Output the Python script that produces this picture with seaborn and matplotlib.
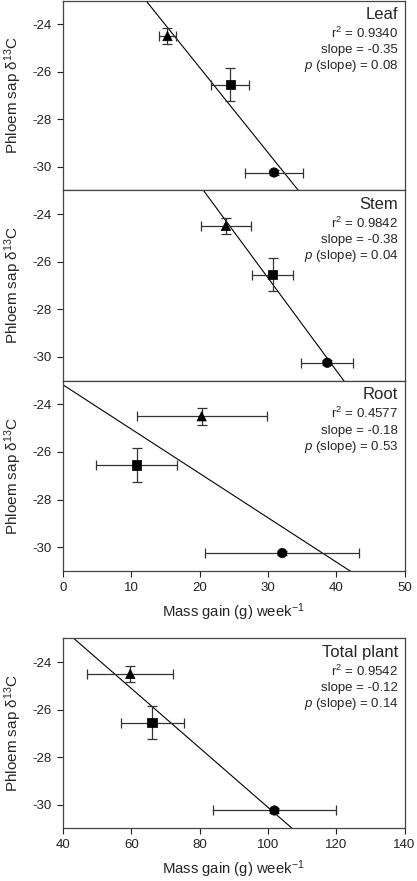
import numpy as np
import pandas as pd
import matplotlib
matplotlib.use("Agg")
import matplotlib.pyplot as plt
import seaborn as sns

# -----------------------------
# Data
# -----------------------------
treatments = ["A", "B", "C"]
markers = {"A": "^", "B": "s", "C": "o"}

y_mean = [-24.5, -26.55, -30.25]
y_err = [0.35, 0.70, 0.10]

leaf_x = [15.3, 24.5, 30.9]
leaf_xerr = [1.2, 2.8, 4.3]
stem_x = [23.85, 30.7, 38.7]
stem_xerr = [3.7, 3.0, 3.8]
root_x = [20.3, 10.8, 32.1]
root_xerr = [9.5, 5.9, 11.3]
total_x = [59.7, 66.1, 101.9]
total_xerr = [12.6, 9.2, 17.9]

panel_names = ["Leaf", "Stem", "Root", "Total plant"]
r2_text = ["0.9340", "0.9842", "0.4577", "0.9542"]
slope_text = ["-0.35", "-0.38", "-0.18", "-0.12"]
p_text = ["0.08", "0.04", "0.53", "0.14"]

x_ticks_top = [0, 10, 20, 30, 40, 50]
x_ticks_total = [40, 60, 80, 100, 120, 140]
y_ticks = [-24, -26, -28, -30]

# -----------------------------
# Style
# -----------------------------
sns.set_style("ticks")
plt.rcParams["font.family"] = ["Liberation Sans", "DejaVu Sans"]
plt.rcParams["mathtext.fontset"] = "custom"
plt.rcParams["mathtext.rm"] = "Liberation Sans"
plt.rcParams["mathtext.it"] = "Liberation Sans:italic"
plt.rcParams["axes.unicode_minus"] = False

fig = plt.figure(figsize=(4.17, 8.81), dpi=100)
W, H = 417, 881
left, right = 63, 404.5


def ax_at(top, bottom):
    return fig.add_axes([left / W, (H - bottom) / H, (right - left) / W, (bottom - top) / H])


axes = [ax_at(0.5, 190.3), ax_at(190.3, 380.6), ax_at(380.6, 570.9), ax_at(638.3, 828.3)]
xs = [leaf_x, stem_x, root_x, total_x]
xerrs = [leaf_xerr, stem_xerr, root_xerr, total_xerr]

for i, ax in enumerate(axes):
    df = pd.DataFrame({"x": xs[i], "y": y_mean, "xerr": xerrs[i],
                       "yerr": y_err, "trt": treatments})
    if i < 3:
        ax.set_xlim(0, 50)
    else:
        ax.set_xlim(40, 140)
    ax.set_ylim(-31, -23)

    # regression line across the whole axis
    sns.regplot(data=df, x="x", y="y", ax=ax, scatter=False, ci=None,
                truncate=False, line_kws={"color": "black", "lw": 0.8})

    # error bars
    ax.errorbar(df["x"], df["y"], xerr=df["xerr"], yerr=df["yerr"], fmt="none",
                ecolor="#333333", elinewidth=0.9, capsize=3.5, capthick=0.9, zorder=3)
    sns.scatterplot(data=df, x="x", y="y", style="trt", markers=markers,
                    color="black", s=45, edgecolor="black", ax=ax, legend=False, zorder=4)

    ax.set_yticks(y_ticks)
    ax.set_yticklabels([str(t) for t in y_ticks], fontsize=9.5)
    ax.tick_params(axis="both", direction="out", length=4, width=0.8,
                   pad=4, colors="#222222")
    for sp in ax.spines.values():
        sp.set_visible(True)
        sp.set_color("#444444")
        sp.set_linewidth(0.9)

    ax.set_ylabel("Phloem sap \u03b4$^{13}$C", fontsize=11)
    ax.yaxis.set_label_coords(-0.115, 0.5)

    if i < 2:
        ax.set_xticks([])
        ax.set_xlabel("")
    else:
        ticks = x_ticks_top if i == 2 else x_ticks_total
        ax.set_xticks(ticks)
        ax.set_xticklabels([str(t) for t in ticks], fontsize=9.5)
        ax.set_xlabel("Mass gain (g) week$^{-1}$", fontsize=10.7, labelpad=5)

    # annotation block
    ax.text(0.981, 0.926, panel_names[i], transform=ax.transAxes,
            ha="right", va="center", fontsize=12)
    ax.text(0.981, 0.826, "r$^2$ = " + r2_text[i], transform=ax.transAxes,
            ha="right", va="center", fontsize=9.5)
    ax.text(0.981, 0.737, "slope = " + slope_text[i], transform=ax.transAxes,
            ha="right", va="center", fontsize=9.5)
    ax.text(0.981, 0.653, "$p$ (slope) = " + p_text[i], transform=ax.transAxes,
            ha="right", va="center", fontsize=9.5)

fig.savefig("out.png", dpi=100)
